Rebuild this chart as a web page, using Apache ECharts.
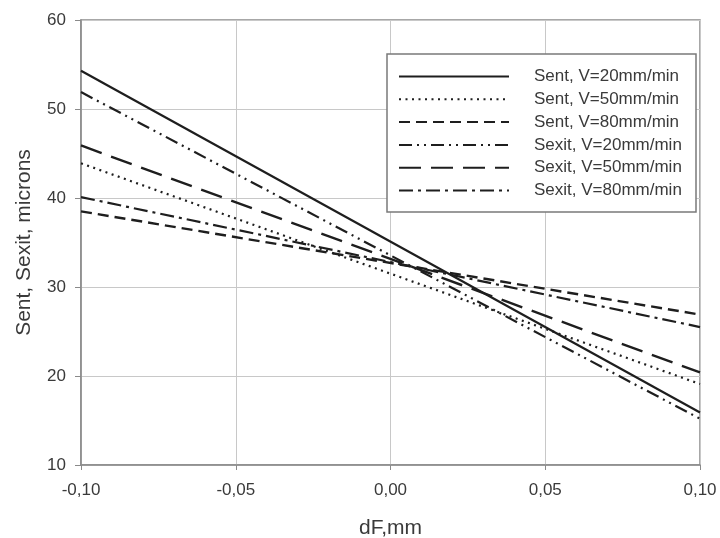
<!DOCTYPE html>
<html>
<head>
    <meta charset="utf-8">
    <title>Sent / Sexit vs dF</title>
    <script src="https://cdn.jsdelivr.net/npm/echarts@6/dist/echarts.min.js"></script>
    <style>
        body { margin: 0; background: #fff; }
    </style>
</head>
<body>
    <div id="main" style="width: 720px;height:538px;"></div>
    <script type="text/javascript">
        // data (straight lines, two end points each)
        var dF = [-0.10, 0.10];
        var sent20 = [54.3, 15.9];
        var sent50 = [43.9, 19.1];
        var sent80 = [38.5, 26.9];
        var sexit20 = [51.9, 15.2];
        var sexit50 = [45.9, 20.4];
        var sexit80 = [40.1, 25.5];
        var names = ['Sent, V=20mm/min', 'Sent, V=50mm/min', 'Sent, V=80mm/min',
                     'Sexit, V=20mm/min', 'Sexit, V=50mm/min', 'Sexit, V=80mm/min'];
        var yTicks = [10, 20, 30, 40, 50, 60];

        var myChart = echarts.init(document.getElementById('main'));
        var font = "'Liberation Sans', Arial, sans-serif";
        var ink = '#1e1e1e';

        function pairs(vals) {
            return dF.map(function (x, i) { return [x, vals[i]]; });
        }
        function mkLine(name, vals, dash, w) {
            return {
                name: name,
                type: 'line',
                data: pairs(vals),
                symbol: 'none',
                silent: true,
                lineStyle: { color: ink, width: w || 2, type: dash, cap: 'butt' },
                itemStyle: { color: ink }
            };
        }

        var option = {
            animation: false,
            grid: { left: 81, right: 20, top: 20, bottom: 73, show: true,
                     outerBoundsMode: 'none', containLabel: false,
                     borderColor: '#8a8a8a', borderWidth: 1.5 },
            graphic: [{
                type: 'rect', z: 3,
                shape: { x: 387, y: 54, width: 309, height: 158 },
                style: { fill: '#fff', stroke: '#7a7a7a', lineWidth: 1.5 }
            }],
            legend: {
                orient: 'vertical',
                left: 398, top: 68,
                padding: 0,
                itemWidth: 110, itemHeight: 16, itemGap: 5.8,
                data: names,
                itemStyle: { opacity: 0, borderWidth: 0 },
                textStyle: { fontFamily: font, fontSize: 17, color: '#3a3a3a',
                             lineHeight: 16, padding: [0, 0, 0, 20] }
            },
            xAxis: {
                type: 'value', min: -0.10, max: 0.10, interval: 0.05,
                name: 'dF,mm', nameLocation: 'middle', nameGap: 53,
                nameTextStyle: { fontFamily: font, fontSize: 21, color: '#3a3a3a' },
                axisLine: { onZero: false, lineStyle: { color: '#8a8a8a', width: 1.5 } },
                axisTick: { show: true, length: 5, lineStyle: { color: '#8a8a8a' } },
                axisLabel: {
                    fontFamily: font, fontSize: 17, color: '#3a3a3a', margin: 17,
                    formatter: function (v) {
                        if (Math.abs(v) < 1e-9) v = 0;
                        return v.toFixed(2).replace('.', ',');
                    }
                },
                splitLine: { show: true, lineStyle: { color: '#c8c8c8', width: 1 } }
            },
            yAxis: {
                type: 'value', min: yTicks[0], max: yTicks[yTicks.length - 1], interval: 10,
                name: 'Sent, Sexit, microns', nameLocation: 'middle', nameGap: 46,
                nameTextStyle: { fontFamily: font, fontSize: 21, color: '#3a3a3a' },
                axisLine: { show: true, onZero: false, lineStyle: { color: '#8a8a8a', width: 1.5 } },
                axisTick: { show: true, length: 6, lineStyle: { color: '#8a8a8a' } },
                axisLabel: { fontFamily: font, fontSize: 17, color: '#3a3a3a', margin: 15 },
                splitLine: { show: true, lineStyle: { color: '#c8c8c8', width: 1 } }
            },
            series: [
                mkLine(names[0], sent20, 'solid', 2.2),
                mkLine(names[1], sent50, [2, 4.5], 2.2),
                mkLine(names[2], sent80, [11, 6], 2.4),
                mkLine(names[3], sexit20, [13, 5, 2, 5, 2, 5], 2.2),
                mkLine(names[4], sexit50, [22, 10], 2.4),
                mkLine(names[5], sexit80, [14, 5, 3, 5], 2.2)
            ]
        };

        myChart.setOption(option);
    </script>
</body>
</html>
